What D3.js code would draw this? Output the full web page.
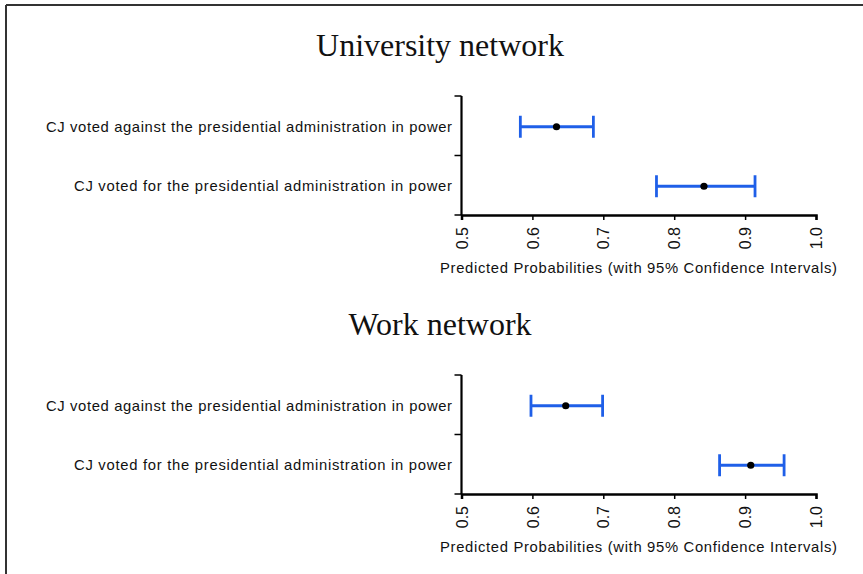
<!DOCTYPE html>
<html>
<head>
<meta charset="utf-8">
<script src="https://cdn.jsdelivr.net/npm/d3@7"></script>
<style>
  body { margin: 0; background: #fff; }
  svg { display: block; }
</style>
</head>
<body>
<div id="chart"></div>
<script>
const categories = [
  'CJ voted against the presidential administration in power',
  'CJ voted for the presidential administration in power'
];
const panelTitles = ['University network', 'Work network'];
// estimates, lower CI, upper CI per panel
const universityEst = [0.634, 0.842];
const universityLow = [0.583, 0.775];
const universityHigh = [0.686, 0.914];
const workEst = [0.647, 0.908];
const workLow = [0.598, 0.864];
const workHigh = [0.699, 0.955];
const xTicks = [0.5, 0.6, 0.7, 0.8, 0.9, 1.0];
const xTitle = 'Predicted Probabilities (with 95% Confidence Intervals)';

const width = 863, height = 574;
const svg = d3.select('#chart').append('svg')
  .attr('width', width)
  .attr('height', height);

// frame (left + top edges only visible)
svg.append('line').attr('x1', 6).attr('y1', 5).attr('x2', 6).attr('y2', height)
  .attr('stroke', '#333').attr('stroke-width', 2);
svg.append('line').attr('x1', 6).attr('y1', 5).attr('x2', width).attr('y2', 5)
  .attr('stroke', '#333').attr('stroke-width', 2);

const x = d3.scaleLinear().domain([0.5, 1.0]).range([461.5, 816]);

const panels = [
  { title: panelTitles[0], est: universityEst, low: universityLow, high: universityHigh, top: 96, bottom: 215, titleY: 56 },
  { title: panelTitles[1], est: workEst, low: workLow, high: workHigh, top: 375, bottom: 494, titleY: 335 }
];

const blue = '#1f5fe8';
const labelWidths = [406, 378];
const sans = '"Liberation Sans", Arial, sans-serif';

panels.forEach(p => {
  const g = svg.append('g');

  g.append('text')
    .attr('x', 440)
    .attr('y', p.titleY)
    .attr('text-anchor', 'middle')
    .attr('font-family', '"Liberation Serif", "Times New Roman", serif')
    .attr('font-size', 32)
    .attr('fill', '#111')
    .text(p.title);

  const y = d3.scaleBand()
    .domain(categories)
    .range([p.top, p.bottom]);

  // y axis with ticks at band edges
  const yEdges = [p.top, (p.top + p.bottom) / 2, p.bottom];
  g.append('line')
    .attr('x1', x(0.5)).attr('x2', x(0.5))
    .attr('y1', p.top).attr('y2', p.bottom)
    .attr('stroke', '#000').attr('stroke-width', 2.2);
  g.selectAll('.ytick').data(yEdges).join('line')
    .attr('x1', x(0.5) - 7).attr('x2', x(0.5))
    .attr('y1', d => d).attr('y2', d => d)
    .attr('stroke', '#000').attr('stroke-width', 1.5);

  g.selectAll('.ylab').data(categories).join('text')
    .attr('x', 452)
    .attr('y', d => y(d) + y.bandwidth() / 2 + 1)
    .attr('dy', '0.35em')
    .attr('text-anchor', 'end')
    .attr('font-family', sans)
    .attr('font-size', 14.8)
    .attr('fill', '#111')
    .attr('textLength', (d, i) => labelWidths[i])
    .attr('lengthAdjust', 'spacing')
    .text(d => d);

  // x axis
  const xAxis = g.append('g')
    .attr('transform', `translate(0,${p.bottom})`)
    .call(d3.axisBottom(x).tickValues(xTicks).tickSize(5).tickFormat(d3.format('.1f')));
  xAxis.select('.domain').attr('stroke', '#000').attr('stroke-width', 2.5);
  xAxis.selectAll('.tick line').attr('stroke', '#000').attr('stroke-width', 1.5);
  xAxis.selectAll('.tick text')
    .attr('font-family', sans)
    .attr('font-size', 16)
    .attr('fill', '#111')
    .attr('transform', 'rotate(-90)')
    .attr('text-anchor', 'end')
    .attr('x', -12)
    .attr('y', 0)
    .attr('dy', '0.35em');

  g.append('text')
    .attr('x', 638.5)
    .attr('y', p.bottom + 58)
    .attr('text-anchor', 'middle')
    .attr('font-family', sans)
    .attr('font-size', 14.8)
    .attr('fill', '#111')
    .attr('textLength', 397)
    .attr('lengthAdjust', 'spacing')
    .text(xTitle);

  // error bars
  const rows = categories.map((c, i) => ({ c, est: p.est[i], low: p.low[i], high: p.high[i] }));
  const cy = d => y(d.c) + y.bandwidth() / 2 + 1;

  g.selectAll('.ci').data(rows).join('line')
    .attr('x1', d => x(d.low)).attr('x2', d => x(d.high))
    .attr('y1', cy).attr('y2', cy)
    .attr('stroke', blue).attr('stroke-width', 2.8);
  g.selectAll('.capl').data(rows).join('line')
    .attr('x1', d => x(d.low)).attr('x2', d => x(d.low))
    .attr('y1', d => cy(d) - 11).attr('y2', d => cy(d) + 11)
    .attr('stroke', blue).attr('stroke-width', 2.8);
  g.selectAll('.caph').data(rows).join('line')
    .attr('x1', d => x(d.high)).attr('x2', d => x(d.high))
    .attr('y1', d => cy(d) - 11).attr('y2', d => cy(d) + 11)
    .attr('stroke', blue).attr('stroke-width', 2.8);
  g.selectAll('.pt').data(rows).join('circle')
    .attr('cx', d => x(d.est))
    .attr('cy', cy)
    .attr('r', 3.6)
    .attr('fill', '#000');
});
</script>
</body>
</html>
